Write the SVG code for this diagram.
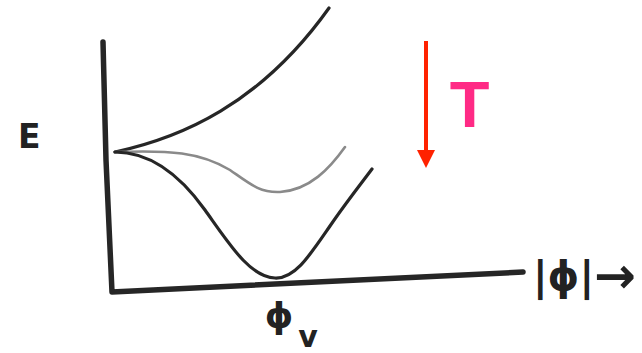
<svg xmlns="http://www.w3.org/2000/svg" width="642" height="353" viewBox="0 0 642 353">
<style>
.ink{fill:none;stroke:#262626;stroke-linecap:round;stroke-linejoin:round}
.axis{stroke-width:5.5}
.curve{stroke-width:3.2}
.grey{fill:none;stroke:#8a8a8a;stroke-width:2.6;stroke-linecap:round}
.lbl{font-family:"DejaVu Sans","Liberation Sans",sans-serif;font-weight:bold;fill:#222}
</style>
<rect width="642" height="353" fill="#ffffff"/>
<g id="axes">
<path class="ink axis" d="M103,42 L106,160 L112,292 L523,272"/>
</g>
<g id="curves">
<path class="ink curve" d="M115,152 C180,138 260,105 329,8"/>
<path class="grey" d="M115,152 C170,150 200,152 230,170 C250,184 260,193 280,192 C310,190 330,168 345,147"/>
<path class="ink curve" d="M115,152 C150,152 180,175 205,210 C230,245 250,277 275,278 C295,279 310,255 330,226 C345,204 360,185 372,169"/>
</g>
<g id="temperature-arrow">
<line x1="426" y1="41" x2="426" y2="152" stroke="#ff2200" stroke-width="4"/>
<polygon points="417,150 435,150 426,168" fill="#ff2200"/>
<text x="469.5" y="127" text-anchor="middle" font-family="'Liberation Sans',Arial,sans-serif" font-weight="bold" font-size="65" fill="#ff2a85">T</text>
</g>
<g id="labels">
<text class="lbl" x="18" y="148" font-size="33" font-family="'Liberation Sans',sans-serif">E</text>
<text class="lbl" x="279" y="328" font-size="36" text-anchor="middle">ϕ<tspan x="308" y="347" font-size="30">v</tspan></text>
<text class="lbl" x="533" y="290" font-size="40">|ϕ|<tspan font-size="50" dy="3">→</tspan></text>
</g>
</svg>
